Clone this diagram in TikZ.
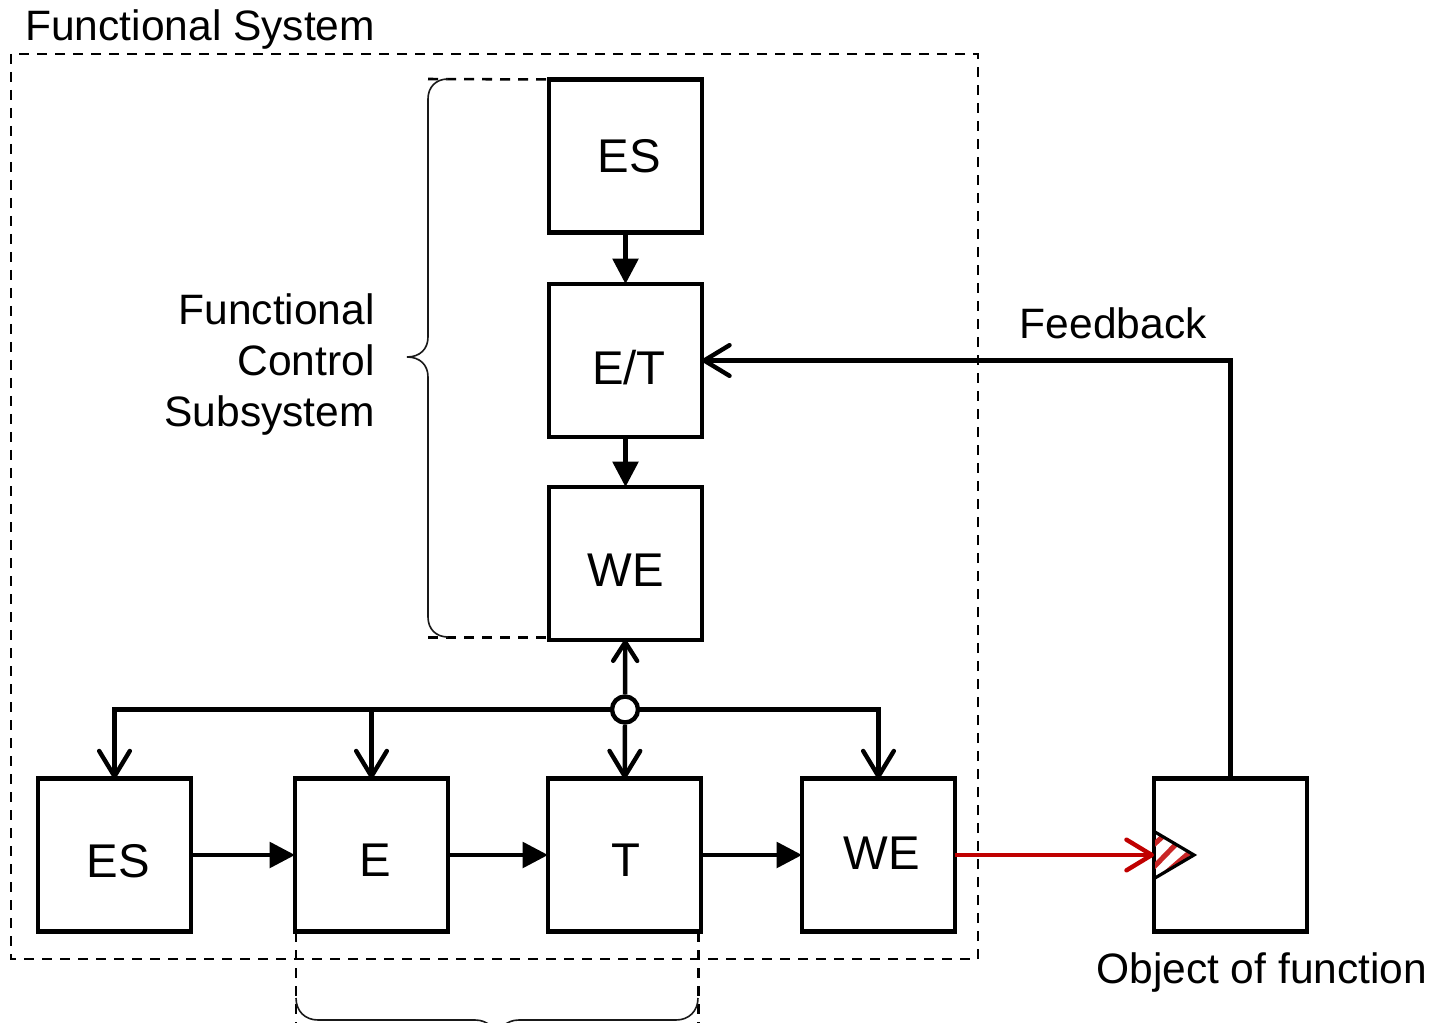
\documentclass[tikz,border=0pt]{standalone}
\usepackage{fontspec}
\setmainfont{Liberation Sans}
\usetikzlibrary{arrows.meta}
\definecolor{darkred}{HTML}{C00000}
\begin{document}
\begin{tikzpicture}[x=0.75pt,y=-0.75pt]
    \tikzstyle{box}=[draw=black, line width=3.3pt, minimum size=114.75pt, inner sep=0pt, outer sep=0pt]
    \tikzstyle{boxtext}=[inner sep=0pt, font=\fontsize{35.5}{42}\selectfont, text=black]
    \tikzstyle{caption}=[inner sep=0pt, font=\fontsize{31.9}{38.25}\selectfont, text=black]
    \tikzstyle{solid arrow}=[line width=3.3pt, -{Triangle[length=19pt,width=19pt]}]
    \tikzstyle{open arrow}=[line width=3.3pt, -{Straight Barb[length=19pt,width=23pt,round,line width=3.3pt]}]
    \tikzstyle{up arrow}=[line width=3.3pt, -{Straight Barb[length=14pt,width=18pt,round,line width=3.3pt]}]
    \tikzstyle{frame}=[line width=1.9pt, dash pattern=on 7.5pt off 6pt]
    \tikzstyle{brace}=[line width=1.2pt, black!90]

    \useasboundingbox (0,0) rectangle (1439,1023);

    \node[box] (es) at (625.5,156) {};
    \node[box] (et) at (625.5,360.5) {};
    \node[box] (we) at (625.5,563.5) {};

    \node[box] (esb) at (114.5,855) {};
    \node[box] (e) at (371.5,855) {};
    \node[box] (t) at (624.5,855) {};
    \node[box] (web) at (878.5,855) {};
    \node[box] (obj) at (1230.5,855) {};

    \node[boxtext] (eslabel) at (629,156) {ES};
    \node[boxtext] (etlabel) at (629,368) {E/T};
    \node[boxtext] (welabel) at (626,570) {WE};
    \node[boxtext] (esblabel) at (118,861) {ES};
    \node[boxtext] (elabel) at (375,860) {E};
    \node[boxtext] (tlabel) at (626,860) {T};
    \node[boxtext] (weblabel) at (882,853) {WE};

    \node[caption, anchor=base west] (system) at (25,41) {Functional System};
    \node[caption, anchor=east, align=right] (control) at (375,365) {Functional\\Control\\Subsystem};
    \node[caption, anchor=base west] (feedback) at (1019.5,339) {Feedback};
    \node[caption, anchor=base west] (object) at (1096,983) {Object of function};

    \draw[frame] (11,54) rectangle (978,959);
    \draw[frame] (428,79) -- (es.north west);
    \draw[frame] (428,637.5) -- (549,637.5);
    \draw[frame] (296,932) -- (296,1023);
    \draw[frame] (698.5,932) -- (698.5,1023);

    \draw[brace] (448,79) .. controls (436,79) and (428,87) .. (428,99) -- (428,337)
        .. controls (428,349) and (420,357) .. (407,357)
        .. controls (420,357) and (428,365) .. (428,377) -- (428,617)
        .. controls (428,629) and (436,637) .. (448,637);
    \draw[brace] (296,998) .. controls (296,1011) and (305,1020) .. (318,1020) -- (475,1020)
        .. controls (488,1020) and (497,1029) .. (497,1042)
        .. controls (497,1029) and (506,1020) .. (519,1020) -- (676,1020)
        .. controls (689,1020) and (698,1011) .. (698,998);

    % signal lines
    \draw[solid arrow] (es) -- (et);
    \draw[solid arrow] (et) -- (we);
    \draw[solid arrow] (esb) -- (e);
    \draw[solid arrow] (e) -- (t);
    \draw[solid arrow] (t) -- (web);

    \node[circle, draw=black, fill=white, line width=3.3pt, minimum size=19.5pt, inner sep=0pt] (junction) at (625,709.5) {};
    \draw[up arrow] (junction) -- (we);
    \draw[open arrow] (junction) -- (t);
    \draw[open arrow] (junction) -| (e);
    \draw[open arrow] (junction) -| (esb);
    \draw[open arrow] (junction) -| (web);

    \draw[open arrow] (obj) |- (et);

    % hatched triangle on the object
    \begin{scope}
        \clip (1155,832) -- (1194,855) -- (1155,878) -- cycle;
        \draw[darkred!85, line width=3.8pt] (1150,848) -- (1170,830);
        \draw[darkred!85, line width=3.8pt] (1150,871) -- (1180,840);
        \draw[darkred!85, line width=3.8pt] (1160,878) -- (1190,852);
    \end{scope}
    \draw[line width=2.4pt, line join=miter] (1155,832) -- (1194,855) -- (1155,878);

    \draw[darkred, line width=3.3pt, -{Straight Barb[length=19pt,width=23pt,round,line width=3.3pt]}] (web) -- (1154,855);
\end{tikzpicture}
\end{document}
